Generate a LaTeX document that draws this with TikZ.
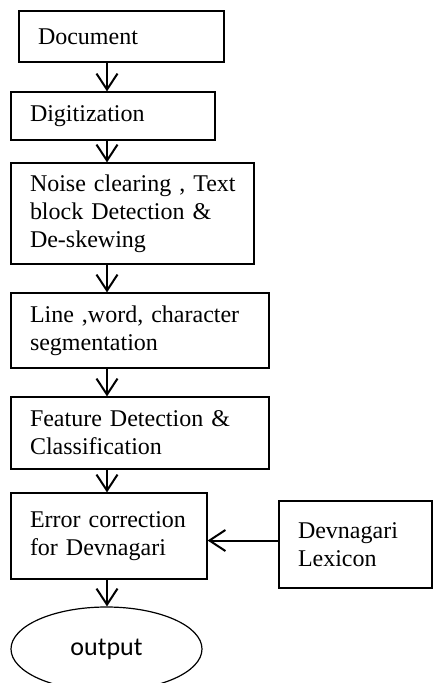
\documentclass[tikz,border=0pt]{standalone}
\usepackage{fontspec}
\setmainfont{Liberation Serif}
\newfontfamily\calibrifont{Carlito}
\usetikzlibrary{arrows.meta,shapes.geometric}

\tikzset{
  procbox/.style={draw, line width=1.2pt, rectangle, inner xsep=19pt, inner ysep=0pt,
    align=left, font=\fontsize{24}{28}\selectfont},
  flow/.style={line width=2pt, -{Straight Barb[length=16pt,width=21pt,line width=2pt]}},
}

\newcommand{\procnode}[6]{%
  \node[procbox, text width=#4pt-38pt, minimum height=#5pt] (#1) at (#2,#3) {#6};}

\begin{document}
\begin{tikzpicture}[x=1pt, y=-1pt]
  \useasboundingbox (0,0) rectangle (433,683);
  \clip (0,0) rectangle (433,683);

  % process boxes: name, centre x, centre y, width, height, text
  \procnode{doc}{121.5}{36.5}{205}{51}{Document}
  \procnode{dig}{113}{116}{204}{48}{Digitization}
  \procnode{noise}{132.5}{213.5}{243}{101}{\mbox{Noise clearing , Text}\\\mbox{block Detection \&}\\De-skewing}
  \procnode{seg}{140}{330.5}{258}{75}{\mbox{Line ,word, character}\\segmentation}
  \procnode{feat}{140}{433}{258}{72}{\mbox{Feature Detection \&}\\Classification}
  \procnode{err}{109}{536}{196}{86}{\mbox{Error correction}\\\mbox{for Devnagari}}
  \procnode{lex}{355.5}{544.5}{153}{87}{Devnagari\\Lexicon}

  \node[draw, line width=1.2pt, ellipse, minimum width=191pt, minimum height=84pt,
        inner sep=0pt, font=\calibrifont\fontsize{26}{30}\selectfont] (out) at (106.5,649) {output};

  % main flow runs down a common vertical line
  \coordinate (spine) at (107,0);
  \coordinate (lexlevel) at (0,540.5);

  \draw[flow] (doc.south -| spine) -- (dig.north -| spine);
  \draw[flow] (dig.south -| spine) -- (noise.north -| spine);
  \draw[flow] (noise.south -| spine) -- (seg.north -| spine);
  \draw[flow] (seg.south -| spine) -- (feat.north -| spine);
  \draw[flow] (feat.south -| spine) -- (err.north -| spine);
  \draw[flow] (err.south -| spine) -- (out.north -| spine);
  \draw[flow] (lex.west |- lexlevel) -- (err.east |- lexlevel);
\end{tikzpicture}
\end{document}
